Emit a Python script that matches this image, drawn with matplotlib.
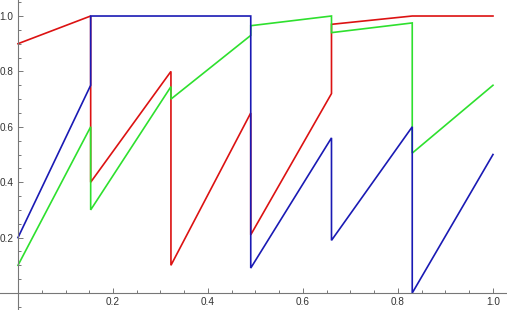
import numpy as np
import matplotlib.pyplot as plt
from matplotlib.ticker import MultipleLocator, FixedLocator

# breakpoints and values (each jump repeats its x)
red_x = [0.0, 0.153, 0.153, 0.322, 0.322, 0.49, 0.49, 0.66, 0.66, 0.83, 1.0]
red_y = [0.90, 1.00, 0.40, 0.80, 0.10, 0.65, 0.21, 0.72, 0.97, 1.00, 1.00]

green_x = [0.0, 0.153, 0.153, 0.322, 0.322, 0.49, 0.49, 0.66, 0.66, 0.83, 0.83, 1.0]
green_y = [0.10, 0.60, 0.30, 0.745, 0.70, 0.93, 0.965, 1.00, 0.94, 0.975, 0.505, 0.75]

blue_x = [0.0, 0.153, 0.153, 0.49, 0.49, 0.66, 0.66, 0.83, 0.83, 1.0]
blue_y = [0.20, 0.75, 1.00, 1.00, 0.09, 0.56, 0.19, 0.60, 0.00, 0.50]

major_ticks = [0.2, 0.4, 0.6, 0.8, 1.0]

plt.rcParams['font.family'] = ['Liberation Sans', 'DejaVu Sans']

fig = plt.figure(figsize=(5.07, 3.10), dpi=100)
ax = fig.add_axes([0, 0, 1, 1])

lw = 1.2
ax.plot(red_x, red_y, color='#dc1212', lw=lw, solid_joinstyle='miter')
ax.plot(green_x, green_y, color='#2ee02e', lw=lw, solid_joinstyle='miter')
ax.plot(blue_x, blue_y, color='#1a1ab4', lw=lw, solid_joinstyle='miter')

ax.set_xlim(-0.0379, 1.0295)
ax.set_ylim(-0.0614, 1.0578)

for side in ['top', 'right']:
    ax.spines[side].set_visible(False)
ax.spines['left'].set_position(('data', 0))
ax.spines['bottom'].set_position(('data', 0))
for side in ['left', 'bottom']:
    ax.spines[side].set_color('#777777')
    ax.spines[side].set_linewidth(0.8)

ax.xaxis.set_major_locator(FixedLocator(major_ticks))
ax.yaxis.set_major_locator(FixedLocator(major_ticks))
ax.xaxis.set_minor_locator(MultipleLocator(0.05))
ax.yaxis.set_minor_locator(MultipleLocator(0.05))
ax.set_xticklabels(['%.1f' % t for t in major_ticks])
ax.set_yticklabels(['%.1f' % t for t in major_ticks])

ax.tick_params(which='both', direction='in', color='#777777', width=0.7,
               labelsize=7.2, labelcolor='#333333')
ax.tick_params(which='major', length=3.6, pad=3.2)
ax.tick_params(which='minor', length=2.2)

fig.savefig('out.png', dpi=100)
